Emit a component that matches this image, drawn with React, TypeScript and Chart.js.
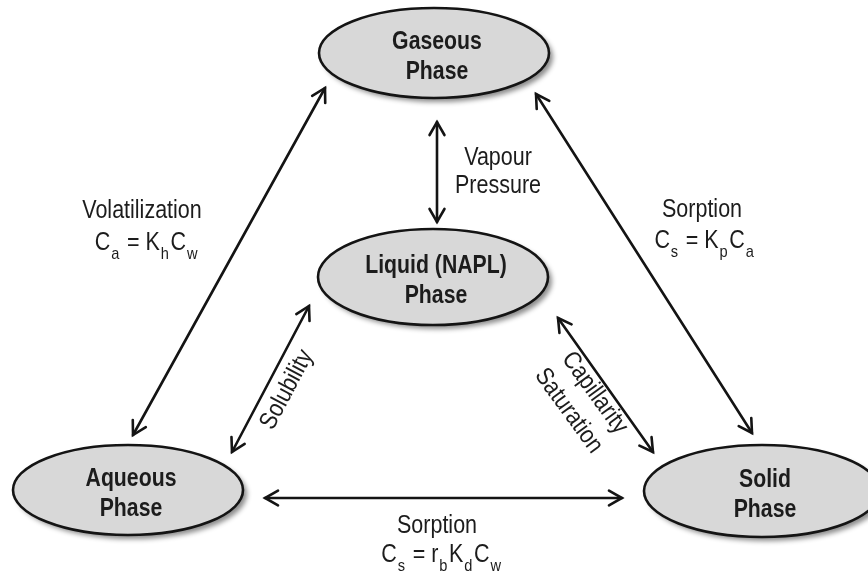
import { useEffect, useRef } from 'react';
import { Chart, registerables } from 'chart.js';

Chart.register(...registerables);

// ---- Diagram data (value space: x 0..868, y 0..578, y downward) ----
const phaseNames: string[][] = [
  ['Gaseous', 'Phase'],
  ['Liquid (NAPL)', 'Phase'],
  ['Aqueous', 'Phase'],
  ['Solid', 'Phase'],
];
const phaseX = [434, 433, 128, 762];
const phaseY = [53, 277, 490, 491];
const phaseRX = [115, 115, 115, 118];
const phaseRY = [45, 48, 45, 46];

// double-headed arrows: start and end points
const arrowStart = [
  [437, 122], // vapour pressure
  [325, 88], // volatilization
  [309, 306], // solubility
  [536, 94], // sorption gas-solid
  [558, 318], // capillarity
  [265, 498], // sorption aqueous-solid
];
const arrowEnd = [
  [437, 222],
  [133, 435],
  [232, 452],
  [752, 433],
  [653, 452],
  [622, 498],
];

// plain labels: text, x, y(baseline), rotation deg
const plainText = ['Vapour', 'Pressure', 'Volatilization', 'Sorption', 'Sorption', 'Solubility', 'Capillarity', 'Saturation'];
const plainX = [498, 498, 142, 702, 437, 293, 589, 563];
const plainY = [165, 193, 218, 217, 533, 393, 397, 415];
const plainRot = [0, 0, 0, 0, 0, -62, 54, 54];

// formulas: tokens (text, isSubscript)
const formulaTokens: [string, boolean][][] = [
  [['C', false], ['a', true], [' = ', false], ['K', false], ['h', true], ['C', false], ['w', true]],
  [['C', false], ['s', true], [' = ', false], ['K', false], ['p', true], ['C', false], ['a', true]],
  [['C', false], ['s', true], [' = ', false], ['r', false], ['b', true], ['K', false], ['d', true], ['C', false], ['w', true]],
];
const formulaX = [147, 705, 442];
const formulaY = [250, 248, 562];

const FONT = '"Liberation Sans", Arial, Helvetica, sans-serif';
const INK = '#141414';
const TEXT = '#1c1c1c';
const SQUEEZE = 0.86;

function arrowHead(ctx: CanvasRenderingContext2D, tx: number, ty: number, fx: number, fy: number) {
  const ang = Math.atan2(ty - fy, tx - fx);
  const len = 15;
  const spread = 0.52;
  ctx.beginPath();
  ctx.moveTo(tx - len * Math.cos(ang - spread), ty - len * Math.sin(ang - spread));
  ctx.lineTo(tx, ty);
  ctx.lineTo(tx - len * Math.cos(ang + spread), ty - len * Math.sin(ang + spread));
  ctx.stroke();
}

const diagramPlugin = {
  id: 'diagram',
  afterDatasetsDraw(chart: any) {
    const ctx: CanvasRenderingContext2D = chart.ctx;
    const xs = chart.scales.x;
    const ys = chart.scales.y;
    const px = (v: number) => xs.getPixelForValue(v);
    const py = (v: number) => ys.getPixelForValue(v);
    const meta = chart.getDatasetMeta(0);

    // ellipses
    phaseNames.forEach((lines, i) => {
      const cx = meta.data[i].x;
      const cy = meta.data[i].y;
      const rx = Math.abs(px(phaseX[i] + phaseRX[i]) - cx);
      const ry = Math.abs(py(phaseY[i] + phaseRY[i]) - cy);
      ctx.save();
      ctx.shadowColor = 'rgba(0,0,0,0.45)';
      ctx.shadowBlur = 5;
      ctx.shadowOffsetX = 4;
      ctx.shadowOffsetY = 4;
      ctx.beginPath();
      ctx.ellipse(cx, cy, rx, ry, 0, 0, Math.PI * 2);
      ctx.fillStyle = '#d8d8d8';
      ctx.fill();
      ctx.restore();
      ctx.save();
      ctx.beginPath();
      ctx.ellipse(cx, cy, rx, ry, 0, 0, Math.PI * 2);
      ctx.lineWidth = 2.6;
      ctx.strokeStyle = INK;
      ctx.stroke();
      ctx.restore();

      ctx.save();
      ctx.fillStyle = TEXT;
      ctx.font = `bold 25px ${FONT}`;
      ctx.textAlign = 'center';
      ctx.textBaseline = 'alphabetic';
      lines.forEach((t, k) => {
        ctx.save();
        ctx.translate(cx + 3, cy - 4 + k * 30);
        ctx.scale(0.85, 1);
        ctx.fillText(t, 0, 0);
        ctx.restore();
      });
      ctx.restore();
    });

    // arrows
    ctx.save();
    ctx.strokeStyle = INK;
    ctx.lineWidth = 2.6;
    ctx.lineCap = 'round';
    ctx.lineJoin = 'miter';
    arrowStart.forEach((s, i) => {
      const e = arrowEnd[i];
      const x1 = px(s[0]), y1 = py(s[1]), x2 = px(e[0]), y2 = py(e[1]);
      ctx.beginPath();
      ctx.moveTo(x1, y1);
      ctx.lineTo(x2, y2);
      ctx.stroke();
      arrowHead(ctx, x1, y1, x2, y2);
      arrowHead(ctx, x2, y2, x1, y1);
    });
    ctx.restore();

    // plain labels
    ctx.save();
    ctx.fillStyle = TEXT;
    ctx.font = `25px ${FONT}`;
    ctx.textAlign = 'center';
    ctx.textBaseline = 'alphabetic';
    plainText.forEach((t, i) => {
      ctx.save();
      ctx.translate(px(plainX[i]), py(plainY[i]));
      ctx.rotate((plainRot[i] * Math.PI) / 180);
      ctx.scale(SQUEEZE, 1);
      ctx.fillText(t, 0, 0);
      ctx.restore();
    });
    ctx.restore();

    // formulas
    ctx.save();
    ctx.fillStyle = TEXT;
    ctx.textAlign = 'left';
    ctx.textBaseline = 'alphabetic';
    const mainFont = `25px ${FONT}`;
    const subFont = `17px ${FONT}`;
    formulaTokens.forEach((toks, i) => {
      let total = 0;
      toks.forEach(([t, sub]) => {
        ctx.font = sub ? subFont : mainFont;
        total += ctx.measureText(t).width + (sub ? 3 : 0);
      });
      ctx.save();
      ctx.translate(px(formulaX[i]), py(formulaY[i]));
      ctx.scale(SQUEEZE, 1);
      let x = -total / 2;
      toks.forEach(([t, sub]) => {
        ctx.font = sub ? subFont : mainFont;
        if (sub) {
          ctx.fillText(t, x + 1, 9);
          x += ctx.measureText(t).width + 3;
        } else {
          ctx.fillText(t, x, 0);
          x += ctx.measureText(t).width;
        }
      });
      ctx.restore();
    });
    ctx.restore();
  },
};

export default function App() {
  const ref = useRef<HTMLCanvasElement>(null);
  useEffect(() => {
    const chart = new Chart(ref.current as HTMLCanvasElement, {
      type: 'scatter',
      data: {
        datasets: [
          {
            data: phaseX.map((x, i) => ({ x, y: phaseY[i] })),
            pointRadius: 0,
            pointHoverRadius: 0,
          },
        ],
      },
      options: {
        animation: false,
        responsive: false,
        events: [],
        layout: { padding: 0 },
        plugins: { legend: { display: false }, tooltip: { enabled: false } },
        scales: {
          x: { type: 'linear', min: 0, max: 868, display: false },
          y: { type: 'linear', min: 0, max: 578, reverse: true, display: false },
        },
      },
      plugins: [diagramPlugin],
    } as any);
    return () => chart.destroy();
  }, []);
  return (
    <div style={{ position: 'absolute', left: 0, top: 0, width: 868, height: 578, background: '#fff', overflow: 'hidden' }}>
      <canvas ref={ref} width={868} height={578} style={{ display: 'block' }} />
    </div>
  );
}
